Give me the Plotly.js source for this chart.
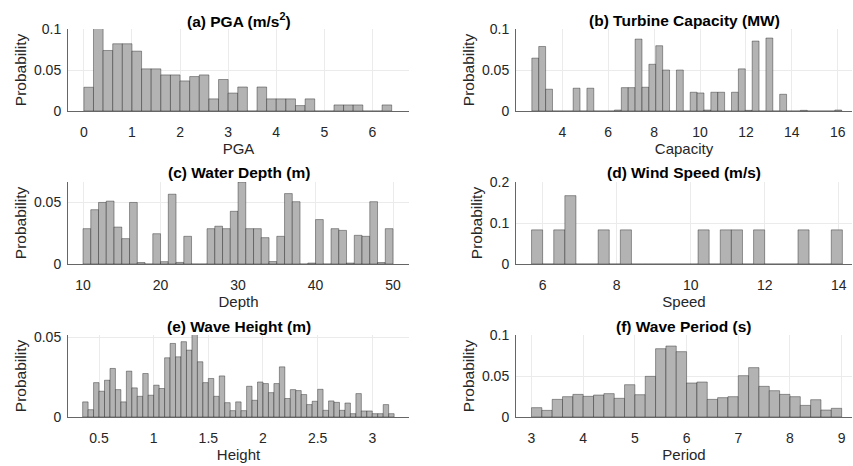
<!DOCTYPE html>
<html>
<head>
<meta charset="utf-8">
<script src="https://cdn.plot.ly/plotly-3.0.1.min.js"></script>
<style>html,body{margin:0;padding:0;background:#fff}#chart{width:853px;height:466px}</style>
</head>
<body>
<div id="chart"></div>
<script>
// ---------------- data ----------------
const pgaBinStart = 0, pgaBinWidth = 0.2;
const pgaProb = [0.029, 0.101, 0.0738, 0.082, 0.082, 0.073, 0.0514, 0.0514, 0.044, 0.044,
  0.0367, 0.042, 0.044, 0.0148, 0.0384, 0.0219, 0.0293, 0, 0.0293, 0.0148,
  0.0148, 0.0148, 0.0066, 0.0148, 0, 0, 0.0074, 0.0074, 0.0074, 0, 0, 0.0074];
const pgaTicks = [0, 1, 2, 3, 4, 5, 6];

const capBinStart = 2.67, capBinWidth = 0.3;
const capProb = [0.0645, 0.0787, 0.0266, 0, 0, 0, 0.0278, 0, 0.0278, 0,
  0, 0, 0.0012, 0.0285, 0.0285, 0.0877, 0.029, 0.057, 0.0796, 0.050,
  0, 0.050, 0, 0.0229, 0.022, 0.0012, 0.0229, 0.0229, 0, 0.0229,
  0.0514, 0.0008, 0.0853, 0, 0.089, 0, 0.0204, 0, 0, 0.0008,
  0, 0, 0, 0, 0.0012];
const capTicks = [4, 6, 8, 10, 12, 14, 16];

const depthBinStart = 10, depthBinWidth = 1;
const depthProb = [0.0287, 0.0441, 0.050, 0.0511, 0.030, 0.0206, 0.050, 0.0012, 0, 0.0246,
  0.0019, 0.0567, 0.0013, 0.0225, 0, 0, 0.0287, 0.0307, 0.0287, 0.0428,
  0.0666, 0.0287, 0.0287, 0.0214, 0.002, 0.0225, 0.0572, 0.0506, 0, 0.0008,
  0.0361, 0, 0.0287, 0.0273, 0.0008, 0.0233, 0.0225, 0.0506, 0.0012, 0.0287];
const depthTicks = [10, 20, 30, 40, 50];

const speedBinStart = 5.7, speedBinWidth = 0.3;
const speedProb = [0.0833, 0, 0.0833, 0.1667, 0, 0, 0.0833, 0, 0.0833, 0,
  0, 0, 0, 0, 0, 0.0833, 0, 0.0833, 0.0833, 0,
  0.0833, 0, 0, 0, 0.0833, 0, 0, 0.0833];
const speedTicks = [6, 8, 10, 12, 14];

const heightBinStart = 0.35, heightBinWidth = 0.05;
const heightProb = [0.0095, 0.0046, 0.0216, 0.0162, 0.0231, 0.0305, 0.0172, 0.0095, 0.0288, 0.0183,
  0.013, 0.0273, 0.0137, 0.020, 0.0179, 0.0372, 0.0462, 0.0378, 0.0473, 0.042,
  0.0519, 0.0347, 0.0216, 0.0242, 0.013, 0.0258, 0.009, 0.004, 0.0095, 0.004,
  0.0193, 0.0105, 0.022, 0.021, 0.0153, 0.021, 0.0315, 0.0116, 0.0172, 0.0166,
  0.0141, 0.0078, 0.0099, 0.0174, 0.0042, 0.0101, 0.0092, 0.0042, 0.0088, 0.0021,
  0.0147, 0.0038, 0.0038, 0.0021, 0.0021, 0.0078, 0.0021];
const heightTicks = [0.5, 1, 1.5, 2, 2.5, 3];

const periodBinStart = 3.0, periodBinWidth = 0.2;
const periodProb = [0.0114, 0.0081, 0.0215, 0.0248, 0.0276, 0.0252, 0.0268, 0.0285, 0.0228, 0.0394,
  0.0272, 0.0496, 0.0833, 0.0866, 0.0797, 0.0415, 0.0427, 0.0215, 0.0236, 0.0248,
  0.0504, 0.0602, 0.0374, 0.0321, 0.0276, 0.0248, 0.0142, 0.0211, 0.0085, 0.0106];
const periodTicks = [3, 4, 5, 6, 7, 8, 9];

const titles = ['(a) PGA (m/s<sup>2</sup>)', '(b) Turbine Capacity (MW)', '(c) Water Depth (m)',
  '(d) Wind Speed (m/s)', '(e) Wave Height (m)', '(f) Wave Period (s)'];
const xLabels = ['PGA', 'Capacity', 'Depth', 'Speed', 'Height', 'Period'];
const yLabel = 'Probability';

// ---------------- layout geometry ----------------
const W = 853, H = 466;
const M = {l: 68, r: 1, t: 29, b: 49};
const PW = W - M.l - M.r, PH = H - M.t - M.b;
const colPx = [[68, 409], [516, 852]];
const rowPx = [[29, 111], [182, 264], [335, 417]];
const titlePx = [20, 172, 326];
const dx = p => (p - M.l) / PW;
const dy = p => (H - M.b - p) / PH;

const FONT = 'Liberation Sans, Arial, Helvetica, sans-serif';

const panels = [
  {probs: pgaProb, start: pgaBinStart, w: pgaBinWidth, xr: [-0.33, 6.76], xt: pgaTicks, yr: [0, 0.1], yt: [0, 0.05, 0.1], c: 0, r: 0},
  {probs: capProb, start: capBinStart, w: capBinWidth, xr: [1.98, 16.62], xt: capTicks, yr: [0, 0.1], yt: [0, 0.05, 0.1], c: 1, r: 0},
  {probs: depthProb, start: depthBinStart, w: depthBinWidth, xr: [8.06, 52.06], xt: depthTicks, yr: [0, 0.0666], yt: [0, 0.05], c: 0, r: 1},
  {probs: speedProb, start: speedBinStart, w: speedBinWidth, xr: [5.28, 14.36], xt: speedTicks, yr: [0, 0.2], yt: [0, 0.1, 0.2], c: 1, r: 1},
  {probs: heightProb, start: heightBinStart, w: heightBinWidth, xr: [0.216, 3.336], xt: heightTicks, yr: [0, 0.0515], yt: [0, 0.05], c: 0, r: 2},
  {probs: periodProb, start: periodBinStart, w: periodBinWidth, xr: [2.70, 9.2], xt: periodTicks, yr: [0, 0.1], yt: [0, 0.05, 0.1], c: 1, r: 2}
];

const traces = [];
const layout = {
  width: W, height: H,
  margin: M,
  paper_bgcolor: '#fff', plot_bgcolor: '#fff',
  showlegend: false,
  bargap: 0,
  font: {family: FONT, color: '#262626'},
  annotations: []
};

panels.forEach((p, i) => {
  const n = i + 1;
  const xa = 'xaxis' + (n === 1 ? '' : n), ya = 'yaxis' + (n === 1 ? '' : n);
  const xr = 'x' + (n === 1 ? '' : n), yr = 'y' + (n === 1 ? '' : n);
  traces.push({
    type: 'bar', xaxis: xr, yaxis: yr,
    y: p.probs, x0: p.start + p.w / 2, dx: p.w, width: p.w,
    marker: {color: '#b3b3b3', line: {color: 'rgba(0,0,0,0.6)', width: 0.6}},
    hoverinfo: 'x+y'
  });
  const common = {
    showgrid: true, gridcolor: '#ebebeb', gridwidth: 1,
    showline: true, linecolor: '#666666', linewidth: 1,
    zeroline: false, ticks: '', fixedrange: true,
    tickfont: {family: FONT, size: 14, color: '#262626'}
  };
  layout[xa] = Object.assign({}, common, {
    anchor: yr,
    domain: [dx(colPx[p.c][0]), dx(colPx[p.c][1])],
    range: p.xr, tickmode: 'array', tickvals: p.xt,
    ticklabelstandoff: 8,
    title: {text: xLabels[i], font: {family: FONT, size: 15, color: '#262626'}, standoff: 2}
  });
  layout[ya] = Object.assign({}, common, {
    anchor: xr,
    domain: [dy(rowPx[p.r][1]), dy(rowPx[p.r][0])],
    range: p.yr, tickmode: 'array', tickvals: p.yt,
    ticklabelstandoff: 3,
    title: {text: yLabel, font: {family: FONT, size: 15.5, color: '#262626'}, standoff: 3}
  });
  layout.annotations.push({
    xref: 'paper', yref: 'paper',
    x: (dx(colPx[p.c][0]) + dx(colPx[p.c][1])) / 2,
    y: dy(titlePx[p.r]),
    xanchor: 'center', yanchor: 'middle',
    text: '<b>' + titles[i] + '</b>', showarrow: false,
    font: {family: FONT, size: 15.5, color: '#000'}
  });
});

Plotly.newPlot('chart', traces, layout, {displayModeBar: false, staticPlot: true});
</script>
</body>
</html>
